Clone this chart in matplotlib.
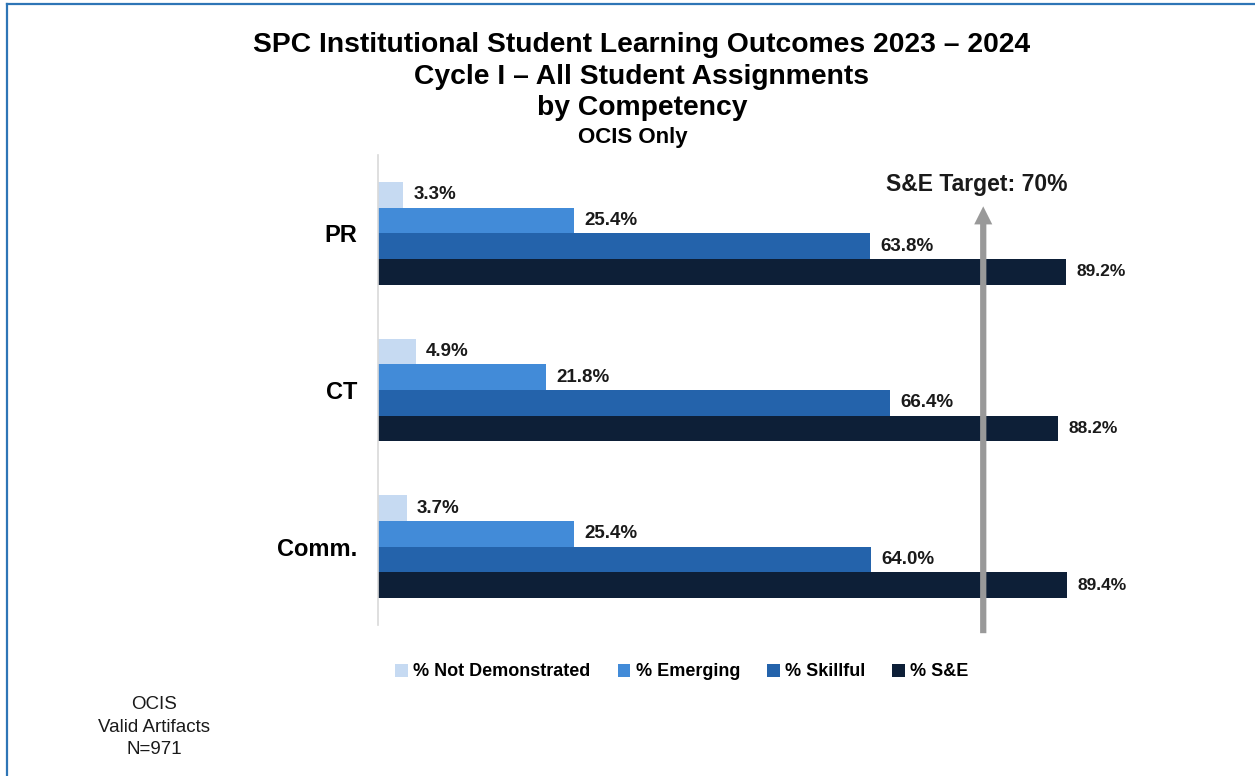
import matplotlib
matplotlib.use("Agg")
import matplotlib.pyplot as plt
import numpy as np
from matplotlib.lines import Line2D
from matplotlib.patches import Patch

plt.rcParams['font.family'] = ['Liberation Sans', 'DejaVu Sans']

categories = ["PR", "CT", "Comm."]
series_names = ["% Not Demonstrated", "% Emerging", "% Skillful", "% S&E"]
not_demonstrated = [3.3, 4.9, 3.7]
emerging = [25.4, 21.8, 25.4]
skillful = [63.8, 66.4, 64.0]
s_and_e = [89.2, 88.2, 89.4]
target_label = "S&E Target: 70%"

series = [not_demonstrated, emerging, skillful, s_and_e]
colors = ["#c6daf2", "#428bd8", "#2463ab", "#0d1f37"]
label_sizes = [13.5, 13.5, 13.5, 12.5]

W, H = 1255, 776
fig = plt.figure(figsize=(W / 100, H / 100), dpi=100)
ax = fig.add_axes([378 / W, 1 - 625 / H, 771 / W, 470 / H])

h = 0.164
y = np.arange(len(categories))
for k, (vals, col) in enumerate(zip(series, colors)):
    offs = (k - 1.5) * h
    ax.barh(y + offs, vals, height=h, color=col, label=series_names[k])
    for yy, v in zip(y + offs, vals):
        ax.annotate(f"{v:.1f}%", xy=(v, yy), xytext=(7.5, 0), textcoords="offset points",
                    va="center", ha="left", fontsize=label_sizes[k], fontweight="bold",
                    color="#1a1a1a")

ax.set_xlim(0, 100)
ax.set_ylim(2.5, -0.5)
ax.set_yticks(y)
ax.set_yticklabels(categories, fontsize=17, fontweight="bold")
ax.tick_params(axis="y", length=0, pad=15)
ax.set_xticks([])
for s in ["top", "right", "bottom"]:
    ax.spines[s].set_visible(False)
ax.spines["left"].set_color("#d9d9d9")
ax.spines["left"].set_linewidth(1.2)

# target arrow
ax.annotate("", xy=(78.5, -0.19), xytext=(78.5, 2.57),
            arrowprops=dict(arrowstyle="simple,head_width=1.3,head_length=1.3,tail_width=0.45",
                            mutation_scale=10, color="#999999", lw=0),
            annotation_clip=False)
fig.text(977 / W, 1 - 184 / H, target_label, ha="center", va="center",
         fontsize=16.5, fontweight="bold", color="#1a1a1a")

# titles
fig.text(642 / W, 1 - 45 / H, "SPC Institutional Student Learning Outcomes 2023 \u2013 2024",
         ha="center", va="center", fontsize=20.3, fontweight="bold")
fig.text(642 / W, 1 - 77 / H, "Cycle I \u2013 All Student Assignments",
         ha="center", va="center", fontsize=20.3, fontweight="bold")
fig.text(642 / W, 1 - 108 / H, "by Competency",
         ha="center", va="center", fontsize=20.3, fontweight="bold")
fig.text(633 / W, 1 - 138 / H, "OCIS Only",
         ha="center", va="center", fontsize=16, fontweight="bold")

# legend
handles = [Patch(facecolor=c, edgecolor="none") for c in colors]
fig.legend(handles, series_names, loc="center", bbox_to_anchor=(682 / W, 1 - 672 / H),
           ncol=4, frameon=False, prop=dict(size=13, weight="bold"),
           handlelength=0.7, handleheight=0.7, handletextpad=0.3, columnspacing=1.5)

fig.text(154 / W, 1 - 727 / H, "OCIS\nValid Artifacts\nN=971", ha="center", va="center",
         fontsize=13.5, linespacing=1.45, color="#1a1a1a")

# frame lines (left & top)
fig.add_artist(Line2D([6.5 / W, 6.5 / W], [0, 1 - 4 / H], transform=fig.transFigure,
                      color="#2e75b6", lw=1.6))
fig.add_artist(Line2D([6.5 / W, 1], [1 - 4 / H, 1 - 4 / H], transform=fig.transFigure,
                      color="#2e75b6", lw=1.6))

fig.savefig("out.png", dpi=100)
